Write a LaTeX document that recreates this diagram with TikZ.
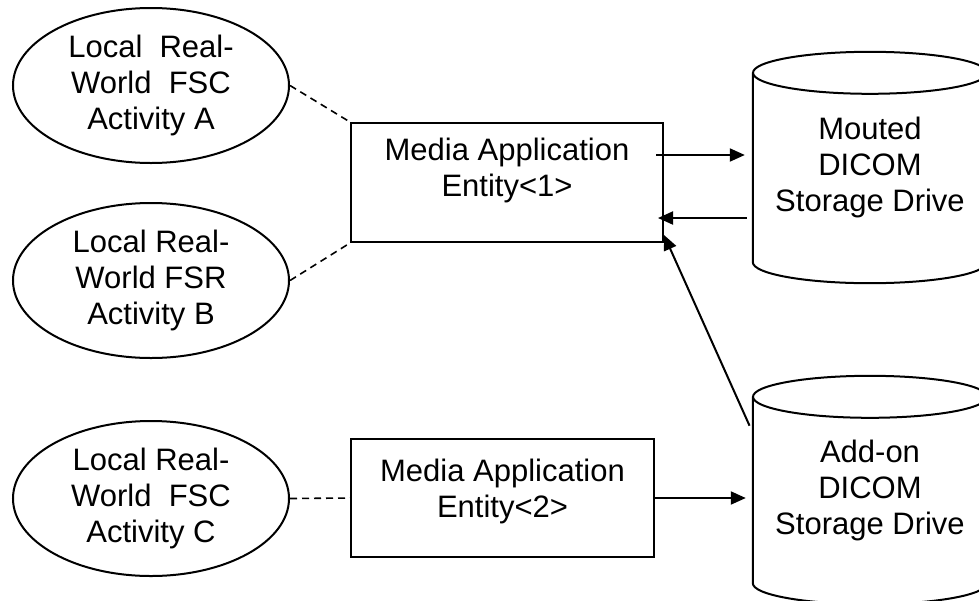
\documentclass[tikz,border=0pt]{standalone}
\usepackage{fontspec}
\setmainfont{Liberation Sans}
\usetikzlibrary{arrows.meta,shapes.geometric}
\begin{document}
\begin{tikzpicture}[x=1pt,y=-1pt,
  every node/.style={font=\fontsize{31}{36}\selectfont, align=center, inner sep=0pt},
  line/.style={line width=2pt, draw=black},
  oval/.style={line, ellipse, minimum width=276pt, minimum height=155pt},
  box/.style={line, rectangle},
  hold/.style={rectangle, minimum width=234pt},
  dsh/.style={line width=1.6pt, dash pattern=on 7pt off 5pt},
  arr/.style={line width=2pt, -{Triangle[length=15pt,width=13pt]}}]
\useasboundingbox (0,0) rectangle (979,600);
% ellipses
\node[oval] (eA) at (151,85.5) {Local\ \ Real-\\World\ \ FSC\\Activity A};
\node[oval] (eB) at (151,280.5) {Local Real-\\World FSR\\Activity B};
\node[oval] (eC) at (151,498.5) {Local Real-\\World\ \ FSC\\Activity C};
% boxes
\node[box, minimum width=312pt, minimum height=119pt] (b1) at (507,182.5) {};
\node (b1t) at (507,170) {Media Application\\Entity<1>};
\node[box, minimum width=303pt, minimum height=118pt] (b2) at (502.5,498) {};
\node (b2t) at (502.5,491) {Media Application\\Entity<2>};
% cylinders
\node[hold, minimum height=189pt] (c1) at (870,167.5) {Mouted\\DICOM\\Storage Drive};
\node[hold, minimum height=186pt] (c2) at (870,490) {Add-on\\DICOM\\Storage Drive};
\foreach \c in {c1,c2}{
  \draw[line] (\c.north west) -- (\c.south west)
    arc[start angle=180, end angle=360, x radius=117pt, y radius=21pt]
    -- (\c.north east);
  \draw[line] (\c.north) ellipse [x radius=117pt, y radius=21pt];
}
% dashed links
\draw[dsh] (eA.east) -- (b1.north west);
\draw[dsh] (eB.east) -- (b1.south west);
\draw[dsh] (eC.east) -- (b2.west);
% arrows
\draw[arr, shorten <=-8pt, shorten >=8pt] (b1.east |- 0,155) -- (c1.west |- 0,155);
\draw[arr, shorten <=6pt, shorten >=-6pt] (c1.west |- 0,218) -- (b1.east |- 0,218);
\coordinate (t3) at ([yshift=8pt]b1.south east);
\draw[arr, shorten <=8pt] (c2.west |- 0,433) -- (t3);
\draw[arr, shorten >=7pt] (b2.east) -- (c2.west |- b2.east);
\end{tikzpicture}
\end{document}
